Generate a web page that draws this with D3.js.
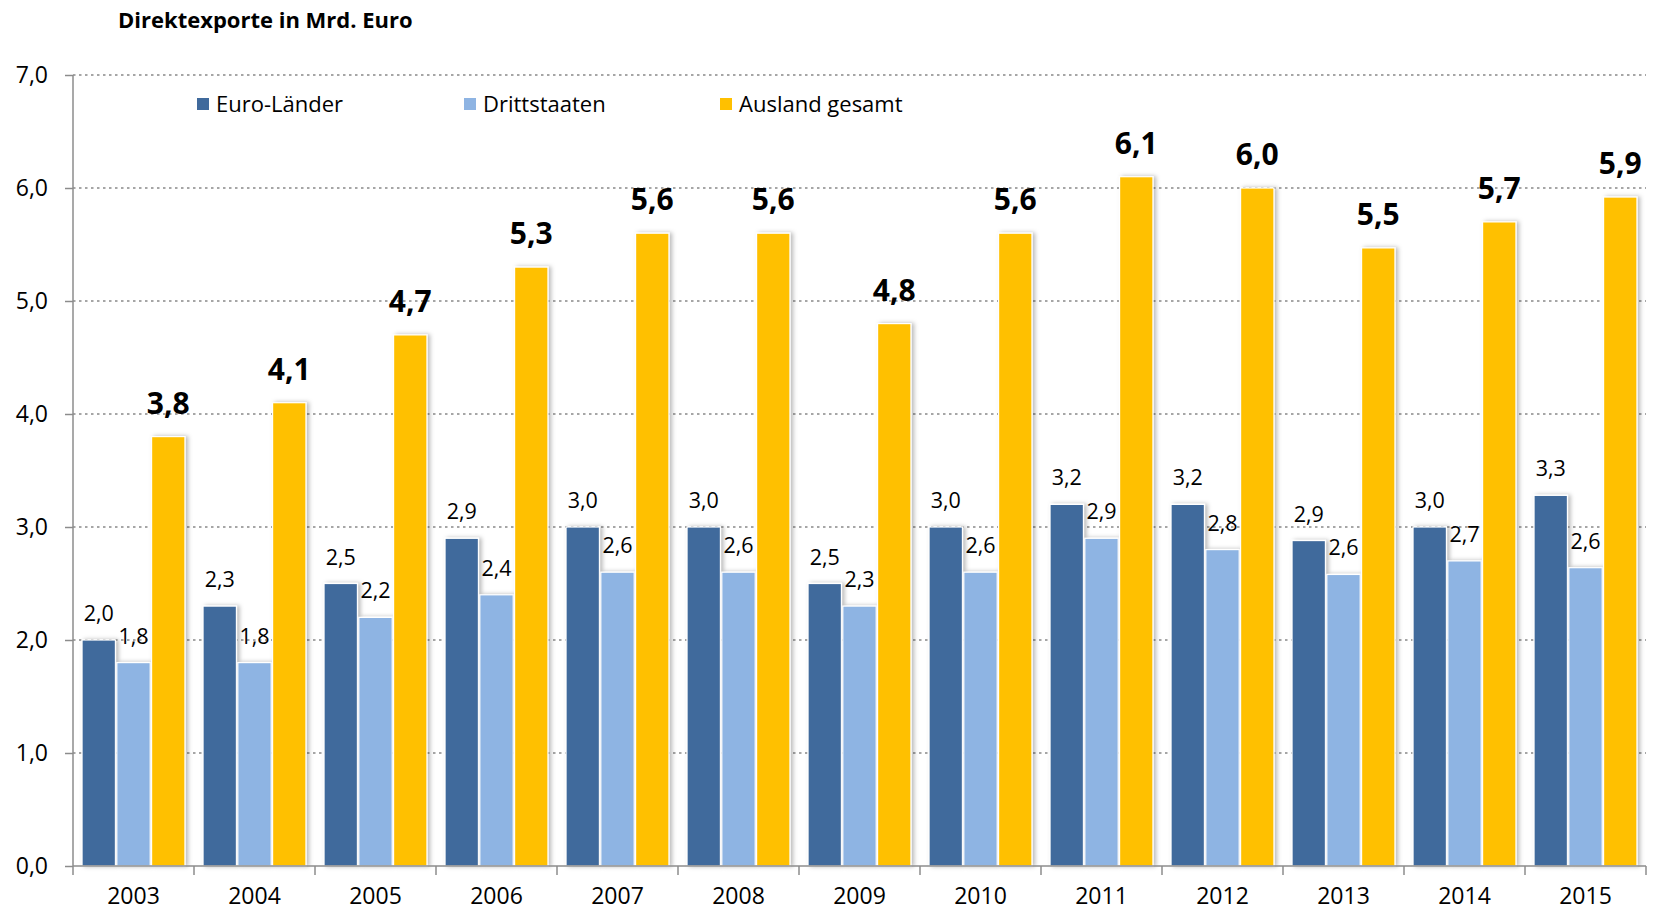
<html>
  <head>
    <title>Direktexporte</title>
    <script src="https://d3js.org/d3.v7.min.js"></script>
    <style>
      body { margin: 0; background: #fff; font-family: "Open Sans", sans-serif; }
      svg text { fill: #000; }
    </style>
  </head>
  <body>
    <svg width="1654" height="912"></svg>
    <script>
      // data
      var years = ["2003","2004","2005","2006","2007","2008","2009","2010","2011","2012","2013","2014","2015"];
      var euroLaender = [2.0, 2.3, 2.5, 2.9, 3.0, 3.0, 2.5, 3.0, 3.2, 3.2, 2.88, 3.0, 3.28];
      var drittstaaten = [1.8, 1.8, 2.2, 2.4, 2.6, 2.6, 2.3, 2.6, 2.9, 2.8, 2.58, 2.7, 2.64];
      var auslandGesamt = [3.8, 4.1, 4.7, 5.3, 5.6, 5.6, 4.8, 5.6, 6.1, 6.0, 5.47, 5.7, 5.92];
      var yTicks = [0, 1, 2, 3, 4, 5, 6, 7];

      var seriesNames = ["Euro-Länder", "Drittstaaten", "Ausland gesamt"];
      var seriesColors = ["#406A9C", "#8EB4E3", "#FFC000"];
      var seriesValues = [euroLaender, drittstaaten, auslandGesamt];

      var svg = d3.select("svg");
      // plot edges (window.top is reserved, so use own names)
      var pLeft = 73, pRight = 1646, pTop = 75, pBottom = 866;

      var x = d3.scaleBand().domain(years).range([pLeft, pRight]).paddingInner(0).paddingOuter(0);
      var xInner = d3.scaleBand().domain([0, 1, 2]).range([0, x.bandwidth()]).paddingOuter(0.26).paddingInner(0.04);
      var y = d3.scaleLinear().domain([0, 7]).range([pBottom, pTop]);
      var fmt = function(v){ return d3.format(".1f")(v).replace(".", ","); };

      // shadow filter
      var defs = svg.append("defs");
      var f = defs.append("filter").attr("id", "sh").attr("x", "-20%").attr("y", "-5%").attr("width", "150%").attr("height", "110%");
      f.append("feDropShadow").attr("dx", 2.5).attr("dy", 0).attr("stdDeviation", 2)
        .attr("flood-color", "#000").attr("flood-opacity", 0.28);

      // title
      svg.append("text").attr("x", 118).attr("y", 28)
        .style("font-weight", "bold").style("font-size", "22px")
        .text("Direktexporte in Mrd. Euro");

      // grid
      svg.append("g").selectAll("line").data(yTicks.filter(function(d){ return d > 0; }))
        .join("line")
        .attr("x1", pLeft).attr("x2", pRight)
        .attr("y1", function(d){ return y(d); }).attr("y2", function(d){ return y(d); })
        .attr("stroke", "#a6a6a6").attr("stroke-width", 2).attr("stroke-dasharray", "2.5,3.5");

      // y axis
      var yAxis = d3.axisLeft(y).tickValues(yTicks).tickSize(8).tickPadding(17).tickFormat(fmt);
      var ya = svg.append("g").attr("transform", "translate(" + pLeft + ",0)").call(yAxis);
      ya.select(".domain").attr("stroke", "#8c8c8c").attr("stroke-width", 1.5).attr("d", "M0," + pTop + "V" + pBottom);
      ya.selectAll(".tick line").attr("stroke", "#8c8c8c").attr("stroke-width", 1.5);
      ya.selectAll(".tick text").style("font-size", "23px").style("font-family", "Open Sans").attr("fill", "#000");

      // bars
      var groups = svg.append("g").selectAll("g").data(years).join("g")
        .attr("transform", function(d){ return "translate(" + x(d) + ",0)"; });

      seriesValues.forEach(function(vals, s){
        groups.append("rect")
          .attr("x", xInner(s))
          .attr("width", xInner.bandwidth())
          .attr("y", function(d, i){ return y(vals[i]); })
          .attr("height", function(d, i){ return pBottom - y(vals[i]); })
          .attr("fill", seriesColors[s])
          .attr("stroke", "#fff").attr("stroke-width", 1.2)
          .attr("filter", "url(#sh)");
      });

      // x axis
      var xa = svg.append("g").attr("transform", "translate(0," + pBottom + ")");
      xa.append("line").attr("x1", pLeft).attr("x2", pRight).attr("stroke", "#8c8c8c").attr("stroke-width", 1.5);
      xa.selectAll(".sep").data(d3.range(years.length + 1)).join("line")
        .attr("x1", function(i){ return pLeft + i * x.step(); })
        .attr("x2", function(i){ return pLeft + i * x.step(); })
        .attr("y1", 0).attr("y2", 9)
        .attr("stroke", "#8c8c8c").attr("stroke-width", 1.5);
      xa.selectAll(".yl").data(years).join("text")
        .attr("x", function(d){ return x(d) + x.bandwidth() / 2; })
        .attr("y", 38)
        .attr("text-anchor", "middle")
        .style("font-size", "23px")
        .text(function(d){ return d; });

      // value labels
      groups.append("text")
        .attr("x", xInner(0) + xInner.bandwidth() / 2)
        .attr("y", function(d, i){ return y(euroLaender[i]) - 19; })
        .attr("text-anchor", "middle").style("font-size", "21.5px")
        .text(function(d, i){ return fmt(euroLaender[i]); });
      groups.append("text")
        .attr("x", xInner(1) + xInner.bandwidth() / 2)
        .attr("y", function(d, i){ return y(drittstaaten[i]) - 19; })
        .attr("text-anchor", "middle").style("font-size", "21.5px")
        .text(function(d, i){ return fmt(drittstaaten[i]); });
      groups.append("text")
        .attr("x", xInner(2) + xInner.bandwidth() / 2)
        .attr("y", function(d, i){ return y(auslandGesamt[i]) - 23; })
        .attr("text-anchor", "middle").style("font-size", "30px").style("font-weight", "bold")
        .text(function(d, i){ return fmt(auslandGesamt[i]); });

      // legend
      var legX = [197, 464, 720];
      var leg = svg.append("g").selectAll("g").data(seriesNames).join("g")
        .attr("transform", function(d, i){ return "translate(" + legX[i] + ",98)"; });
      leg.append("rect").attr("width", 12).attr("height", 12).attr("fill", function(d, i){ return seriesColors[i]; });
      leg.append("text").attr("x", 19).attr("y", 14).style("font-size", "22px").text(function(d){ return d; });
    </script>
  </body>
</html>
